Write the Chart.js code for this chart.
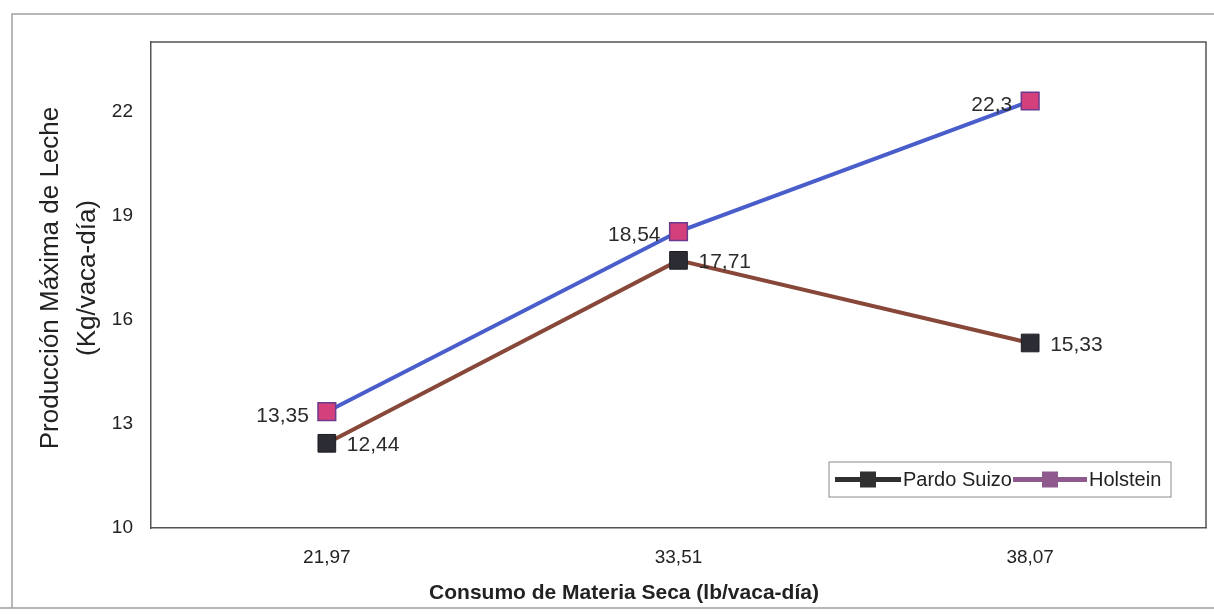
<!DOCTYPE html>
<html>
<head>
<meta charset="utf-8">
<script src="https://cdn.jsdelivr.net/npm/chart.js@4/dist/chart.umd.min.js"></script>
<style>
  html, body { margin: 0; padding: 0; background: #fff; }
  #wrap { width: 1214px; height: 614px; }
</style>
</head>
<body>
<div id="wrap"><canvas id="milkChart" width="1214" height="614"></canvas></div>
<script>
// Consumo de materia seca (lb/vaca-día)
const categories = ["21,97", "33,51", "38,07"];
// Producción máxima de leche (Kg/vaca-día)
const pardoSuizo = [12.44, 17.71, 15.33];
const holstein = [13.35, 18.54, 22.3];
const yTicks = [10, 13, 16, 19, 22];

const FONT = "'Liberation Sans', Arial, sans-serif";
const fmt = v => String(v).replace(".", ",");

// frame, titles, point labels and the small legend box
const decorations = {
    id: "decorations",
    beforeDraw(chart) {
        const { ctx, width, height } = chart;
        ctx.save();
        ctx.fillStyle = "#ffffff";
        ctx.fillRect(0, 0, width, height);
        ctx.strokeStyle = "#a0a0a0";
        ctx.lineWidth = 1.5;
        ctx.beginPath();
        ctx.moveTo(12, 608);
        ctx.lineTo(12, 14);
        ctx.lineTo(width, 14);
        ctx.moveTo(0, 608);
        ctx.lineTo(width, 608);
        ctx.stroke();
        ctx.restore();
    },
    afterDatasetsDraw(chart) {
        const { ctx, chartArea: a } = chart;
        ctx.save();

        // box around plot area (top and right)
        ctx.strokeStyle = "#555";
        ctx.lineWidth = 1.5;
        ctx.beginPath();
        ctx.moveTo(a.left, a.top);
        ctx.lineTo(a.right, a.top);
        ctx.lineTo(a.right, a.bottom);
        ctx.stroke();

        // value labels
        ctx.font = "21px " + FONT;
        ctx.fillStyle = "#2b2b2b";
        ctx.textBaseline = "middle";
        chart.data.datasets.forEach((ds, i) => {
            const meta = chart.getDatasetMeta(i);
            meta.data.forEach((pt, j) => {
                const txt = fmt(ds.data[j]);
                if (ds.labelSide === "left") {
                    ctx.textAlign = "right";
                    ctx.fillText(txt, pt.x - 18, pt.y + 4);
                } else {
                    ctx.textAlign = "left";
                    ctx.fillText(txt, pt.x + 20, pt.y + 2);
                }
            });
        });

        // axis titles
        ctx.fillStyle = "#222";
        ctx.textAlign = "center";
        ctx.font = "bold 21px " + FONT;
        ctx.fillText("Consumo de Materia Seca (lb/vaca-día)", 624, 593);

        ctx.save();
        ctx.translate(51, 278);
        ctx.rotate(-Math.PI / 2);
        ctx.font = "26px " + FONT;
        ctx.fillText("Producción Máxima de Leche", 0, 0);
        ctx.fillText("(Kg/vaca-día)", 0, 37);
        ctx.restore();

        // legend
        const lx = 829, ly = 462, lw = 342, lh = 35;
        ctx.fillStyle = "#fff";
        ctx.fillRect(lx, ly, lw, lh);
        ctx.strokeStyle = "#8a8a8a";
        ctx.lineWidth = 1;
        ctx.strokeRect(lx, ly, lw, lh);
        const cy = ly + lh / 2;
        const entries = [
            { ds: chart.data.datasets[0], x0: lx + 6, x1: lx + 72, color: "#303030" },
            { ds: chart.data.datasets[1], x0: lx + 184, x1: lx + 258, color: "#8e5a8e" }
        ];
        ctx.font = "20px " + FONT;
        ctx.textAlign = "left";
        entries.forEach(e => {
            ctx.strokeStyle = e.color;
            ctx.lineWidth = 5;
            ctx.beginPath();
            ctx.moveTo(e.x0, cy);
            ctx.lineTo(e.x1, cy);
            ctx.stroke();
            const mx = (e.x0 + e.x1) / 2;
            ctx.fillStyle = e.color;
            ctx.fillRect(mx - 8, cy - 8, 16, 16);
            ctx.fillStyle = "#222";
            ctx.fillText(e.ds.label, e.x1 + 2, cy + 1);
        });

        ctx.restore();
    }
};

new Chart(document.getElementById("milkChart"), {
    type: "line",
    data: {
        labels: categories,
        datasets: [
            {
                label: "Pardo Suizo",
                data: pardoSuizo,
                borderColor: "#87483a",
                borderWidth: 4,
                pointStyle: "rect",
                pointRadius: 12.5,
                pointHoverRadius: 12.5,
                pointBackgroundColor: "#2c2c34",
                pointBorderColor: "#1c1c22",
                pointBorderWidth: 1,
                labelSide: "right",
                tension: 0
            },
            {
                label: "Holstein",
                data: holstein,
                borderColor: "#4a5ecb",
                borderWidth: 4,
                pointStyle: "rect",
                pointRadius: 12.5,
                pointHoverRadius: 12.5,
                pointBackgroundColor: "#d4407c",
                pointBorderColor: "#6a3a8e",
                pointBorderWidth: 1.5,
                labelSide: "left",
                tension: 0
            }
        ]
    },
    options: {
        responsive: false,
        animation: false,
        devicePixelRatio: 1,
        layout: { autoPadding: false, padding: { top: 42, right: 8, left: 0, bottom: 0 } },
        plugins: {
            legend: { display: false },
            tooltip: { enabled: false }
        },
        scales: {
            x: {
                offset: true,
                grid: { display: false },
                border: { display: true, color: "#555", width: 1.5 },
                ticks: {
                    color: "#222",
                    font: { family: FONT, size: 19 },
                    padding: 10
                },
                afterFit(scale) { scale.height = 86; }
            },
            y: {
                min: 10,
                max: 24,
                grid: { display: false },
                border: { display: true, color: "#555", width: 1.5 },
                afterBuildTicks(scale) {
                    scale.ticks = yTicks.map(v => ({ value: v }));
                },
                ticks: {
                    color: "#222",
                    font: { family: FONT, size: 19 },
                    padding: 10
                },
                afterFit(scale) { scale.width = 151; }
            }
        }
    },
    plugins: [decorations]
});
</script>
</body>
</html>
